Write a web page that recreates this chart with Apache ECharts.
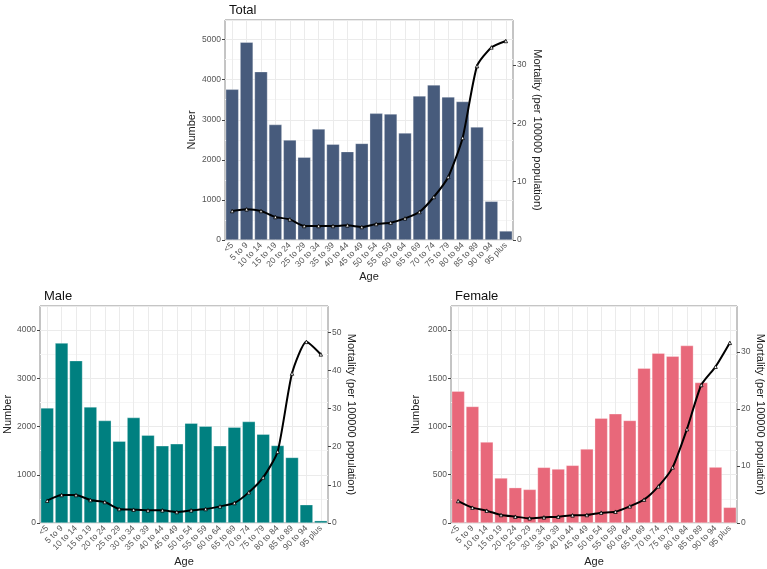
<!DOCTYPE html>
<html>
<head>
<meta charset="utf-8">
<script src="https://cdn.jsdelivr.net/npm/echarts@6/dist/echarts.min.js"></script>
<style>
  html, body { margin: 0; padding: 0; background: #fff; }
  #chart { width: 767px; height: 569px; }
</style>
</head>
<body>
<div id="chart"></div>
<script>
// age groups on the x axis
const ageGroups = ['<5', '5 to 9', '10 to 14', '15 to 19', '20 to 24', '25 to 29', '30 to 34',
  '35 to 39', '40 to 44', '45 to 49', '50 to 54', '55 to 59', '60 to 64', '65 to 69',
  '70 to 74', '75 to 79', '80 to 84', '85 to 89', '90 to 94', '95 plus'];

// number of deaths (bars, left axis)
const totalNumber = [3760, 4935, 4200, 2880, 2495, 2065, 2770, 2390, 2205, 2410,
  3160, 3145, 2670, 3595, 3870, 3570, 3455, 2820, 965, 225];
const maleNumber = [2386, 3731, 3366, 2407, 2124, 1697, 2186, 1821, 1600, 1641,
  2069, 2007, 1600, 1986, 2103, 1841, 1607, 1359, 379, 48];
const femaleNumber = [1366, 1207, 838, 466, 366, 348, 576, 559, 597, 766,
  1086, 1131, 1062, 1603, 1759, 1728, 1838, 1455, 579, 162];

// mortality per 100000 population (line, right axis)
const totalMortality = [4.97, 5.26, 4.97, 3.94, 3.54, 2.4, 2.4, 2.4, 2.51, 2.23,
  2.74, 2.97, 3.71, 4.8, 7.37, 10.8, 17.5, 29.8, 33.0, 34.1];
const maleMortality = [5.85, 7.33, 7.33, 6.02, 5.5, 3.66, 3.49, 3.32, 3.32, 2.88,
  3.32, 3.66, 4.36, 5.24, 8.03, 11.95, 18.7, 39.2, 47.5, 44.2];
const femaleMortality = [3.85, 2.69, 2.16, 1.4, 1.11, 0.82, 0.99, 1.11, 1.34, 1.4,
  1.81, 1.98, 2.92, 4.09, 6.42, 9.75, 16.46, 24.2, 27.4, 31.6];

const chart = echarts.init(document.getElementById('chart'));

const grids = [], xAxes = [], yAxes = [], seriesList = [], titles = [];

// one ggplot-like panel: bars on the left axis, mortality line on the right axis
function addPanel(p) {
  const gi = grids.length;
  grids.push({
    left: p.left, top: p.top, width: p.width, height: p.height,
    show: true, borderColor: '#8a8a8a', borderWidth: 1, backgroundColor: 'transparent'
  });
  titles.push({
    text: p.title, left: p.left - 1, top: p.top - 21,
    textStyle: { fontSize: 13, fontWeight: 'normal', color: '#111' }
  });
  xAxes.push({
    type: 'category', gridIndex: gi, data: ageGroups,
    name: 'Age', nameLocation: 'middle', nameGap: p.ageGap,
    nameTextStyle: { fontSize: 11, color: '#222' },
    axisLine: { show: false },
    axisTick: { alignWithLabel: true, length: 3, lineStyle: { color: '#444' } },
    axisLabel: { interval: 0, rotate: 45, fontSize: 8.5, color: '#555', margin: 4 },
    splitLine: { show: true, alignWithLabel: true, lineStyle: { color: '#ebebeb', width: 1 } }
  });
  const yi = yAxes.length;
  yAxes.push({
    type: 'value', gridIndex: gi, position: 'left',
    min: 0, max: p.numMax, interval: p.numStep,
    name: 'Number', nameLocation: 'middle', nameGap: p.numGap,
    nameTextStyle: { fontSize: 11, color: '#222' },
    axisLine: { show: false },
    axisTick: { show: true, length: 3, lineStyle: { color: '#444' } },
    axisLabel: { fontSize: 8.5, color: '#555', margin: 4, showMaxLabel: false,
      formatter: v => String(v) },
    splitLine: { show: true, lineStyle: { color: '#ebebeb', width: 1 } },
    minorTick: { show: false, splitNumber: 2 },
    minorSplitLine: { show: true, lineStyle: { color: '#f5f5f5', width: 1 } }
  });
  yAxes.push({
    type: 'value', gridIndex: gi, position: 'right',
    min: 0, max: p.mortMax, interval: 10,
    name: 'Mortality (per 100000 population)', nameLocation: 'middle', nameGap: p.mortGap,
    nameRotate: -90,
    nameTextStyle: { fontSize: 11, color: '#222' },
    axisLine: { show: false },
    axisTick: { show: true, length: 3, lineStyle: { color: '#444' } },
    axisLabel: { fontSize: 8.5, color: '#555', margin: 4, showMaxLabel: false },
    splitLine: { show: false }
  });
  seriesList.push({
    type: 'bar', xAxisIndex: gi, yAxisIndex: yi, data: p.bars,
    barCategoryGap: '10%',
    itemStyle: { color: p.color, borderColor: 'rgba(255,255,255,0.6)', borderWidth: 0.5 },
    silent: true
  });
  seriesList.push({
    type: 'line', xAxisIndex: gi, yAxisIndex: yi + 1, data: p.line,
    smooth: 0.2,
    symbol: 'triangle', symbolSize: 3.5,
    lineStyle: { color: '#000', width: 2 },
    itemStyle: { color: '#fff', borderColor: '#000', borderWidth: 0.8 },
    z: 5, silent: true
  });
}

addPanel({
  title: 'Total', left: 225, top: 20, width: 288, height: 220,
  numMax: 5490, numStep: 1000, mortMax: 37.7,
  numGap: 27.5, mortGap: 18.5, ageGap: 31.5,
  color: '#475b7c', bars: totalNumber, line: totalMortality
});
addPanel({
  title: 'Male', left: 40, top: 306, width: 288, height: 217,
  numMax: 4500, numStep: 1000, mortMax: 56.9,
  numGap: 27, mortGap: 18, ageGap: 33.5,
  color: '#008080', bars: maleNumber, line: maleMortality
});
addPanel({
  title: 'Female', left: 451, top: 306, width: 286, height: 217,
  numMax: 2248, numStep: 500, mortMax: 38.06,
  numGap: 30, mortGap: 18, ageGap: 33.5,
  color: '#e8687a', bars: femaleNumber, line: femaleMortality
});

chart.setOption({
  animation: false,
  textStyle: { fontFamily: 'Liberation Sans, Arial, sans-serif' },
  title: titles,
  grid: grids,
  xAxis: xAxes,
  yAxis: yAxes,
  series: seriesList
});
</script>
</body>
</html>
